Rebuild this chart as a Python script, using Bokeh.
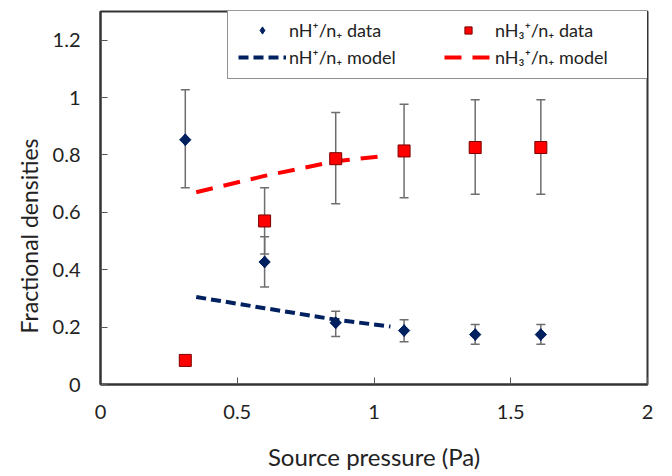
import math
from bokeh.plotting import figure
from bokeh.models import (ColumnDataSource, Whisker, TeeHead, Legend, LegendItem,
                          FixedTicker, Range1d, Title)
from bokeh.embed import file_html
from bokeh.resources import INLINE

# ---- data ----
pressure = [0.31, 0.60, 0.86, 1.11, 1.37, 1.61]
h_frac = [0.853, 0.427, 0.215, 0.188, 0.174, 0.174]
h_err_lo = [0.686, 0.340, 0.167, 0.149, 0.140, 0.140]
h_err_hi = [1.027, 0.515, 0.255, 0.226, 0.209, 0.209]

h3_frac = [0.084, 0.570, 0.787, 0.814, 0.826, 0.826]
h3_err_x = [0.60, 0.86, 1.11, 1.37, 1.61]
h3_err_lo = [0.455, 0.630, 0.651, 0.663, 0.663]
h3_err_hi = [0.686, 0.948, 0.977, 0.992, 0.992]

h_model_x = [0.35, 0.60, 0.86, 1.06]
h_model_y = [0.305, 0.266, 0.226, 0.202]
h3_model_x = [0.35, 0.60, 0.86, 1.05]
h3_model_y = [0.670, 0.727, 0.778, 0.798]

x_ticks = [0, 0.5, 1, 1.5, 2]
x_tick_labels = ["0", "0.5", "1", "1.5", "2"]
y_ticks = [0, 0.2, 0.4, 0.6, 0.8, 1.0, 1.2]
y_tick_labels = ["0", "0.2", "0.4", "0.6", "0.8", "1", "1.2"]

labels = ["nH\u207a/n\u208a data", "nH\u2083\u207a/n\u208a data",
          "nH\u207a/n\u208a model", "nH\u2083\u207a/n\u208a model"]
x_title = "Source pressure (Pa)"
y_title = "Fractional densities"

FONT = "Lato"
TXT = "#222222"
BLUE = "#002060"
RED = "#FF0000"

p = figure(width=672, height=476, output_backend="svg", toolbar_location=None,
           x_range=Range1d(0, 2), y_range=Range1d(0, 1.3),
           min_border_left=100, min_border_right=25, min_border_top=11,
           min_border_bottom=92)
p.grid.visible = False
p.outline_line_color = "#333333"
p.outline_line_width = 2
p.background_fill_color = "white"
p.border_fill_color = "white"

for ax, ticks, labs in ((p.xaxis[0], x_ticks, x_tick_labels), (p.yaxis[0], y_ticks, y_tick_labels)):
    ax.ticker = FixedTicker(ticks=ticks)
    ax.major_label_overrides = {t: l for t, l in zip(ticks, labs)}
    ax.major_tick_in = 7
    ax.major_tick_out = 0
    ax.minor_tick_line_color = None
    ax.major_tick_line_color = "#555555"
    ax.axis_line_color = "#333333"
    ax.axis_line_width = 2
    ax.major_label_text_font = FONT
    ax.major_label_text_font_size = "20px"
    ax.major_label_text_color = TXT
    ax.axis_label_text_font = FONT
    ax.axis_label_text_font_size = "24px"
    ax.axis_label_text_font_style = "normal"
    ax.axis_label_text_color = TXT

p.xaxis.axis_label = x_title
p.xaxis.major_label_standoff = 20
p.yaxis.major_label_standoff = 20
p.xaxis.axis_label_standoff = 20

ytitle = Title(text=y_title, align="left", offset=51, standoff=13,
               text_font=FONT, text_font_size="23px", text_font_style="normal",
               text_color=TXT)
p.add_layout(ytitle, "left")

# error bars
src_h_err = ColumnDataSource(dict(x=pressure, lo=h_err_lo, hi=h_err_hi))
src_h3_err = ColumnDataSource(dict(x=h3_err_x, lo=h3_err_lo, hi=h3_err_hi))
for s in (src_h_err, src_h3_err):
    w = Whisker(base="x", lower="lo", upper="hi", source=s,
                line_color="#6e6e6e", line_width=1.5,
                upper_head=TeeHead(size=9, line_color="#6e6e6e", line_width=1.5),
                lower_head=TeeHead(size=9, line_color="#6e6e6e", line_width=1.5))
    p.add_layout(w)

# model lines
r_hm = p.line(h_model_x, h_model_y, line_color=BLUE, line_width=4, line_dash="10 5")
r_h3m = p.line(h3_model_x, h3_model_y, line_color=RED, line_width=4, line_dash="17 11")

# data markers (diamond renderer for the legend sample, rotated square on top)
r_hd = p.scatter(pressure, h_frac, marker="diamond", size=12,
                 fill_color=BLUE, line_color=BLUE)
p.scatter(pressure, h_frac, marker="square", size=8, angle=math.pi / 4,
          fill_color=BLUE, line_color=BLUE)
r_h3d = p.scatter(pressure, h3_frac, marker="square", size=12,
                  fill_color=RED, line_color="#7a0000", line_width=1)

legend = Legend(items=[LegendItem(label=labels[0], renderers=[r_hd]),
                       LegendItem(label=labels[2], renderers=[r_hm]),
                       LegendItem(label=labels[1], renderers=[r_h3d]),
                       LegendItem(label=labels[3], renderers=[r_h3m])],
                ncols=2, location=(127, 305))
legend.label_text_font = FONT
legend.label_text_font_size = "18px"
legend.label_text_color = TXT
legend.glyph_width = 48
legend.glyph_height = 18
legend.label_width = 150
legend.label_standoff = 3
legend.spacing = 5
legend.padding = 10
legend.border_line_color = "#222222"
legend.border_line_width = 1.5
legend.background_fill_alpha = 1
p.add_layout(legend)

open("out.html", "w").write(file_html(p, INLINE))
